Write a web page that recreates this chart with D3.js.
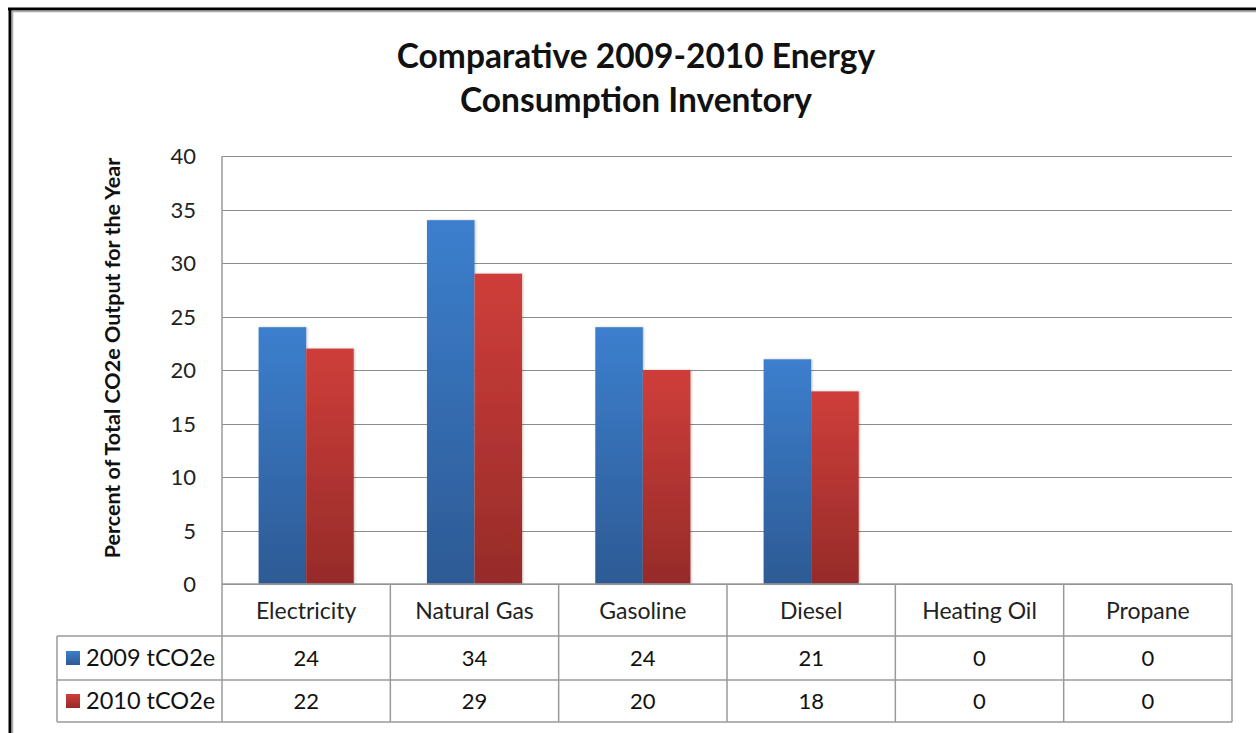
<!DOCTYPE html>
<html>
<head>
<meta charset="utf-8">
<script src="https://cdn.jsdelivr.net/npm/d3@7"></script>
<style>
  body { margin: 0; background: #fff; }
  text { font-family: Lato, "Noto Sans", sans-serif; fill: #111; }
</style>
</head>
<body>
<div id="chart"></div>
<script>
// chart data
var categories = ["Electricity", "Natural Gas", "Gasoline", "Diesel", "Heating Oil", "Propane"];
var seriesNames = ["2009 tCO2e", "2010 tCO2e"];
var values2009 = [24, 34, 24, 21, 0, 0];
var values2010 = [22, 29, 20, 18, 0, 0];
var yTicks = [0, 5, 10, 15, 20, 25, 30, 35, 40];

var W = 1256, H = 733;
var plotLeft = 222, plotRight = 1232, plotTop = 156, plotBottom = 584;
var rowTops = [584, 636, 680, 722];
var tableLeft = 57;

var series = [values2009, values2010];
var gradColors = [["#3c7fce", "#2d5a94"], ["#cf3e3a", "#962b29"]];

var svg = d3.select("#chart").append("svg")
  .attr("width", W)
  .attr("height", H);

// gradients for bars
var defs = svg.append("defs");
gradColors.forEach(function(c, i) {
  var g = defs.append("linearGradient")
    .attr("id", "grad" + i)
    .attr("x1", 0).attr("y1", 0).attr("x2", 0).attr("y2", 1);
  g.append("stop").attr("offset", "0%").attr("stop-color", c[0]);
  g.append("stop").attr("offset", "100%").attr("stop-color", c[1]);
});
var sh = defs.append("filter").attr("id", "shadow")
  .attr("x", "-20%").attr("y", "-5%").attr("width", "140%").attr("height", "110%");
sh.append("feDropShadow").attr("dx", 1).attr("dy", 0).attr("stdDeviation", 1.2)
  .attr("flood-color", "#000").attr("flood-opacity", 0.25);

// outer frame
svg.append("line").attr("x1", 10).attr("x2", 10).attr("y1", 8).attr("y2", H)
  .attr("stroke", "#000").attr("stroke-width", 3);
svg.append("line").attr("x1", 8).attr("x2", W).attr("y1", 9).attr("y2", 9)
  .attr("stroke", "#000").attr("stroke-width", 3);
svg.append("line").attr("x1", 12.5).attr("x2", 12.5).attr("y1", 11).attr("y2", H)
  .attr("stroke", "#aaa").attr("stroke-width", 1.5);
svg.append("line").attr("x1", 12).attr("x2", W).attr("y1", 11.5).attr("y2", 11.5)
  .attr("stroke", "#aaa").attr("stroke-width", 1.5);

// scales
var x = d3.scaleBand()
  .domain(categories)
  .range([plotLeft, plotRight]);

var x1 = d3.scaleBand()
  .domain(seriesNames)
  .range([0, x.bandwidth()])
  .paddingInner(0)
  .paddingOuter(0.77);

var y = d3.scaleLinear()
  .domain([0, 40])
  .range([plotBottom, plotTop]);

// gridlines
svg.append("g").selectAll("line")
  .data(yTicks)
  .enter().append("line")
  .attr("x1", plotLeft).attr("x2", plotRight)
  .attr("y1", function(d) { return Math.round(y(d)) + 0.5; })
  .attr("y2", function(d) { return Math.round(y(d)) + 0.5; })
  .attr("stroke", "#8c8c8c")
  .attr("stroke-width", 1.2);

// y axis
var yAxis = d3.axisLeft(y).tickValues(yTicks).tickSize(0).tickPadding(0);
var yg = svg.append("g")
  .attr("transform", "translate(196,0)")
  .call(yAxis);
yg.select(".domain").remove();
yg.selectAll("text")
  .attr("font-family", null)
  .attr("font-size", null)
  .style("font-size", "22px")
  .style("fill", "#222")
  .attr("dy", "0.35em");

// bars
var groups = svg.append("g").selectAll("g")
  .data(categories)
  .enter().append("g")
  .attr("transform", function(d) { return "translate(" + x(d) + ",0)"; });

groups.selectAll("rect")
  .data(function(d, i) {
    return seriesNames.map(function(s, j) { return {s: s, j: j, v: series[j][i]}; });
  })
  .enter().append("rect")
  .filter(function(d) { return d.v > 0; })
  .attr("x", function(d) { return x1(d.s); })
  .attr("width", x1.bandwidth())
  .attr("y", function(d) { return y(d.v); })
  .attr("height", function(d) { return y(0) - y(d.v); })
  .attr("fill", function(d) { return "url(#grad" + d.j + ")"; })
  .attr("filter", "url(#shadow)");

// data table lines
var tableColor = "#9a9a9a";
var lines = svg.append("g").attr("stroke", tableColor).attr("stroke-width", 1.5);
lines.append("line").attr("x1", plotLeft).attr("x2", plotRight).attr("y1", plotBottom).attr("y2", plotBottom);
[1, 2, 3].forEach(function(r) {
  lines.append("line").attr("x1", tableLeft).attr("x2", plotRight)
    .attr("y1", rowTops[r]).attr("y2", rowTops[r]);
});
lines.append("line").attr("x1", plotLeft).attr("x2", plotLeft).attr("y1", plotTop).attr("y2", rowTops[3]);
lines.append("line").attr("x1", tableLeft).attr("x2", tableLeft).attr("y1", rowTops[1]).attr("y2", rowTops[3]);
categories.forEach(function(c) {
  var xe = x(c) + x.bandwidth();
  lines.append("line").attr("x1", xe).attr("x2", xe).attr("y1", plotBottom).attr("y2", rowTops[3]);
});

// category labels
svg.append("g").selectAll("text")
  .data(categories)
  .enter().append("text")
  .attr("x", function(d) { return x(d) + x.bandwidth() / 2; })
  .attr("y", (rowTops[0] + rowTops[1]) / 2 + 1)
  .attr("dy", "0.35em")
  .attr("text-anchor", "middle")
  .style("font-size", "23px")
  .style("fill", "#222")
  .text(function(d) { return d; });

// table values and legend keys
seriesNames.forEach(function(s, j) {
  var cy = (rowTops[j + 1] + rowTops[j + 2]) / 2;
  svg.append("rect")
    .attr("x", 66).attr("y", cy - 7)
    .attr("width", 14).attr("height", 14)
    .attr("fill", "url(#grad" + j + ")");
  svg.append("text")
    .attr("x", 86).attr("y", cy)
    .attr("dy", "0.35em")
    .style("font-size", "23.5px")
    .text(s);
  svg.append("g").selectAll("text")
    .data(series[j])
    .enter().append("text")
    .attr("x", function(d, i) { return x(categories[i]) + x.bandwidth() / 2; })
    .attr("y", cy)
    .attr("dy", "0.35em")
    .attr("text-anchor", "middle")
    .style("font-size", "22px")
    .text(function(d) { return d; });
});

// title
var title = svg.append("text")
  .attr("x", 636)
  .attr("text-anchor", "middle")
  .style("font-size", "33.5px")
  .style("font-weight", "bold");
title.append("tspan").attr("x", 636).attr("y", 68).text("Comparative 2009-2010 Energy");
title.append("tspan").attr("x", 636).attr("y", 112).text("Consumption Inventory");

// y axis title
svg.append("text")
  .attr("transform", "translate(120,358) rotate(-90)")
  .attr("text-anchor", "middle")
  .style("font-size", "21.5px")
  .style("font-weight", "bold")
  .text("Percent of Total CO2e Output for the Year");
</script>
</body>
</html>
